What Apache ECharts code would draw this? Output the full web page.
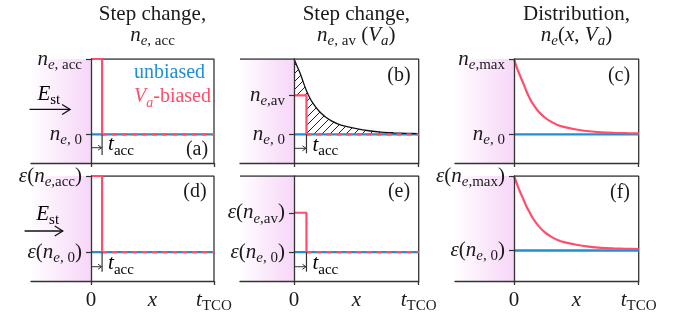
<!DOCTYPE html>
<html>
<head>
<meta charset="utf-8">
<script src="https://cdn.jsdelivr.net/npm/echarts@6/dist/echarts.min.js"></script>
<style>
  html, body { margin: 0; padding: 0; background: #fff; }
  #chart { width: 686px; height: 320px; }
</style>
</head>
<body>
<div id="chart"></div>
<script>
// ---------- values ----------
const T_TCO = 1;                         // right end of every x range
const xTickValues = [0, T_TCO];
const xLabelValues = [0, 0.5, T_TCO];
const xLabelTexts = ['{r|0}', '{n|x}', '{n|t}{sr|TCO}'];

const nE0 = 0.275;      // unbiased level n_e,0
const nE0f = 0.29;      // unbiased level drawn in panel (f)
const nAcc = 1.0;       // n_e,acc
const nAv = 0.65;       // n_e,av
const nMax = 1.0;       // n_e,max
const tAccStep = 0.09;  // t_acc in panels (a), (d)
const tAccAvg = 0.1;    // t_acc in panels (b), (e)

// sampled profiles n_e(x)
const profileX   = [0, 0.025, 0.05, 0.075, 0.1, 0.125, 0.15, 0.2, 0.25, 0.3, 0.35, 0.4, 0.5, 0.6, 0.7, 0.8, 0.9, 1.0];
const avgProfile = [1.0, 0.93, 0.86, 0.775, 0.695, 0.63, 0.578, 0.50, 0.445, 0.405, 0.377, 0.356, 0.33, 0.31, 0.297, 0.29, 0.285, 0.282];
const distProfileC = [1.0, 0.91, 0.835, 0.765, 0.69, 0.625, 0.57, 0.49, 0.435, 0.395, 0.365, 0.347, 0.322, 0.305, 0.295, 0.29, 0.287, 0.285];
const distProfileF = [1.0, 0.92, 0.845, 0.78, 0.71, 0.655, 0.60, 0.52, 0.46, 0.42, 0.39, 0.37, 0.345, 0.327, 0.315, 0.31, 0.307, 0.305];

// t_acc marker: [arrow level, bar bottom]
const tAccMarkA = [0.147, 0.077];
const tAccMarkB = [0.141, 0.093];
const tAccMarkD = [0.136, 0.089];
const tAccMarkE = [0.136, 0.089];

// E_st arrows: [x start, x end, level]
const fieldArrowTop = [-0.5, -0.17, 0.515];
const fieldArrowBottom = [-0.54, -0.23, 0.476];

// ---------- styles ----------
const BLUE = '#1f8fd6';
const RED = '#ff4d6b';
const INK = '#333';
const TXT = '#1a1a1a';
const SERIF = '"Liberation Serif", "DejaVu Serif", serif';

function richSet(color) {
  return {
    n:  { fontFamily: SERIF, fontStyle: 'italic', fontSize: 21, lineHeight: 27, verticalAlign: 'middle', color: color },
    r:  { fontFamily: SERIF, fontSize: 21, lineHeight: 27, verticalAlign: 'middle', color: color },
    si: { fontFamily: SERIF, fontStyle: 'italic', fontSize: 15, lineHeight: 15, verticalAlign: 'bottom', color: color },
    sr: { fontFamily: SERIF, fontSize: 15, lineHeight: 15, verticalAlign: 'bottom', color: color }
  };
}
const RICH = richSet(TXT);

const nSub = s => '{n|n}{si|e}{sr|' + s + '}';
const epsOf = s => '{n|ε}{r|(}' + nSub(s) + '{r|)}';

// ---------- panel layout ----------
const grids = [
  { left: 31,  top: 59,  width: 183,   height: 104 },
  { left: 240, top: 59,  width: 178.7, height: 104 },
  { left: 455, top: 59,  width: 183.7, height: 104 },
  { left: 31,  top: 176, width: 183,   height: 105 },
  { left: 240, top: 176, width: 178.7, height: 105 },
  { left: 455, top: 176, width: 183.7, height: 105 }
];
const xMins = [-0.488, -0.433, -0.473, -0.488, -0.433, -0.473];
// distance from a grid's left edge to x = 0, used to put the y axis on x = 0
const zeroShift = i => grids[i].width * (-xMins[i]) / (T_TCO - xMins[i]);

const yLabelSets = [
  [[nE0, nSub(', 0')], [nAcc, nSub(', acc')]],
  [[nE0, nSub(', 0')], [nAv, nSub(',av')]],
  [[nE0, nSub(', 0')], [nMax, nSub(',max')]],
  [[nE0, epsOf(', 0')], [nAcc, epsOf(',acc')]],
  [[nE0, epsOf(', 0')], [nAv, epsOf(',av')]],
  [[nE0f, epsOf(', 0')], [nMax, epsOf(',max')]]
];

// ---------- helpers ----------
function hatchTile() {
  const s = 8;
  const c = document.createElement('canvas');
  c.width = s; c.height = s;
  const g = c.getContext('2d');
  g.strokeStyle = '#222';
  g.lineWidth = 1;
  g.beginPath();
  g.moveTo(0, s); g.lineTo(s, 0);
  g.moveTo(-1, 1); g.lineTo(1, -1);
  g.moveTo(s - 1, s + 1); g.lineTo(s + 1, s - 1);
  g.stroke();
  return c;
}
const HATCH = { image: hatchTile(), repeat: 'repeat' };

const zip = (xs, ys) => xs.map((x, k) => [x, ys[k]]);

function lineSeries(i, name, data, color, width, extra) {
  return Object.assign({
    type: 'line', name: name, xAxisIndex: i, yAxisIndex: i,
    data: data, showSymbol: false, symbol: 'none', silent: true,
    lineStyle: { color: color, width: width }, itemStyle: { color: color },
    z: 3, animation: false
  }, extra || {});
}

function frameSeries(i, fullTop) {
  return lineSeries(i, 'frame', [[fullTop ? xMins[i] : 0, 1], [T_TCO, 1], [T_TCO, 0]], INK, 1.3, {
    z: 1,
    markArea: {
      silent: true,
      itemStyle: {
        color: new echarts.graphic.LinearGradient(0, 0, 1, 0, [
          { offset: 0, color: '#fffdff' },
          { offset: 1, color: '#f7d6f8' }
        ])
      },
      label: { show: false },
      data: [[{ xAxis: xMins[i], yAxis: 0 }, { xAxis: 0, yAxis: 1 }]]
    }
  });
}

function stepSeries(i, level, tAcc, base) {
  return [
    lineSeries(i, 'Va-biased', [[0, level], [tAcc, level], [tAcc, base]], RED, 2.2, { z: 4 }),
    lineSeries(i, 'Va-biased', [[tAcc, base], [T_TCO, base]], RED, 2.2, {
      z: 4, lineStyle: { color: RED, width: 2.2, type: [5, 5] }
    })
  ];
}

function tAccMarker(i, tAcc, base, mark) {
  return {
    type: 'custom', xAxisIndex: i, yAxisIndex: i, silent: true, z: 6,
    data: [[tAcc, mark[0], mark[1], base]],
    renderItem: (params, api) => {
      const a0 = api.coord([0, api.value(1)]);
      const a1 = api.coord([api.value(0), api.value(1)]);
      const b0 = api.coord([api.value(0), api.value(3)]);
      const b1 = api.coord([api.value(0), api.value(2)]);
      const ls = { stroke: INK, lineWidth: 1, fill: null };
      return {
        type: 'group',
        children: [
          { type: 'line', shape: { x1: a0[0], y1: a0[1], x2: a1[0] - 0.5, y2: a1[1] }, style: ls },
          { type: 'polyline', shape: { points: [[a1[0] - 4, a1[1] - 2.5], [a1[0] - 0.5, a1[1]], [a1[0] - 4, a1[1] + 2.5]] }, style: ls },
          { type: 'line', shape: { x1: b0[0], y1: b0[1], x2: b1[0], y2: b1[1] }, style: { stroke: INK, lineWidth: 1.2 } },
          { type: 'text', x: b0[0] + 6, y: a1[1] - 3,
            style: { text: '{n|t}{sr|acc}', rich: RICH, align: 'left', verticalAlign: 'middle' } }
        ]
      };
    }
  };
}

function fieldArrow(i, arrow, labelDx, labelDy) {
  return {
    type: 'custom', xAxisIndex: i, yAxisIndex: i, silent: true, z: 6, clip: false,
    data: [arrow],
    renderItem: (params, api) => {
      const p0 = api.coord([api.value(0), api.value(2)]);
      const p1 = api.coord([api.value(1), api.value(2)]);
      const ls = { stroke: '#111', lineWidth: 1.3, fill: null };
      return {
        type: 'group',
        children: [
          { type: 'line', shape: { x1: p0[0], y1: p0[1], x2: p1[0], y2: p1[1] }, style: ls },
          { type: 'polyline', shape: { points: [[p1[0] - 8, p1[1] - 5], [p1[0], p1[1]], [p1[0] - 8, p1[1] + 5]] }, style: ls },
          { type: 'text', x: (p0[0] + p1[0]) / 2 + labelDx, y: p0[1] + labelDy,
            style: { text: '{n|E}{sr|st}', rich: RICH, align: 'center', verticalAlign: 'middle' } }
        ]
      };
    }
  };
}

function hatchSeries(i) {
  return {
    type: 'custom', xAxisIndex: i, yAxisIndex: i, silent: true, z: 2,
    data: [[0, nAv]],
    renderItem: (params, api) => {
      const upper = zip(profileX, avgProfile).map(p => api.coord(p));
      const lower = [[T_TCO, nE0], [tAccAvg, nE0], [tAccAvg, nAv], [0, nAv]].map(p => api.coord(p));
      return { type: 'polygon', shape: { points: upper.concat(lower) }, style: { fill: HATCH, stroke: null } };
    }
  };
}

// ---------- axes ----------
const xAxes = grids.map((g, i) => ({
  gridIndex: i, type: 'value', min: xMins[i], max: T_TCO, z: 5,
  axisLine: { show: true, onZero: false, lineStyle: { color: INK, width: 1.3 } },
  axisTick: { show: true, customValues: xTickValues, length: 4, inside: false, lineStyle: { color: INK, width: 1.3 } },
  axisLabel: {
    show: i >= 3, customValues: xLabelValues, margin: 6, rich: RICH,
    formatter: v => xLabelTexts[xLabelValues.findIndex(t => Math.abs(t - v) < 1e-6)] || ''
  },
  splitLine: { show: false }
}));

const yAxes = grids.map((g, i) => ({
  gridIndex: i, type: 'value', min: 0, max: 1, z: 5,
  position: 'left', offset: -zeroShift(i),
  axisLine: { show: true, onZero: false, lineStyle: { color: INK, width: 1.3 } },
  axisTick: { show: true, customValues: yLabelSets[i].map(d => d[0]), length: 5, lineStyle: { color: INK, width: 1.2 } },
  axisLabel: {
    customValues: yLabelSets[i].map(d => d[0]), margin: 9, rich: RICH,
    formatter: v => { const d = yLabelSets[i].find(e => Math.abs(e[0] - v) < 1e-6); return d ? d[1] : ''; }
  },
  splitLine: { show: false }
}));

// ---------- series ----------
const series = [
  // (a)
  frameSeries(0, false),
  lineSeries(0, 'unbiased', [[0, nE0], [T_TCO, nE0]], BLUE, 2.4),
  ...stepSeries(0, nAcc, tAccStep, nE0),
  tAccMarker(0, tAccStep, nE0, tAccMarkA),
  fieldArrow(0, fieldArrowTop, -1, -15),
  // (b)
  frameSeries(1, true),
  hatchSeries(1),
  lineSeries(1, 'unbiased', [[0, nE0], [T_TCO, nE0]], BLUE, 2.4),
  lineSeries(1, 'profile', zip(profileX, avgProfile), '#111', 1.3, { smooth: 0.3, z: 3 }),
  ...stepSeries(1, nAv, tAccAvg, nE0),
  tAccMarker(1, tAccAvg, nE0, tAccMarkB),
  // (c)
  frameSeries(2, false),
  lineSeries(2, 'unbiased', [[0, nE0], [T_TCO, nE0]], BLUE, 2.4),
  lineSeries(2, 'Va-biased', zip(profileX, distProfileC), RED, 2.2, { smooth: 0.3, z: 4 }),
  // (d)
  frameSeries(3, false),
  lineSeries(3, 'unbiased', [[0, nE0], [T_TCO, nE0]], BLUE, 2.4),
  ...stepSeries(3, nAcc, tAccStep, nE0),
  tAccMarker(3, tAccStep, nE0, tAccMarkD),
  fieldArrow(3, fieldArrowBottom, 4, -17),
  // (e)
  frameSeries(4, true),
  lineSeries(4, 'unbiased', [[0, nE0], [T_TCO, nE0]], BLUE, 2.4),
  ...stepSeries(4, nAv, tAccAvg, nE0),
  tAccMarker(4, tAccAvg, nE0, tAccMarkE),
  // (f)
  frameSeries(5, false),
  lineSeries(5, 'unbiased', [[0, nE0f], [T_TCO, nE0f]], BLUE, 2.4),
  lineSeries(5, 'Va-biased', zip(profileX, distProfileF), RED, 2.2, { smooth: 0.3, z: 4 })
];

// ---------- titles ----------
const colCenters = [152.5, 356.3, 576.5];
const titleLine1 = ['Step change,', 'Step change,', 'Distribution,'];
const titleLine2 = [
  nSub(', acc'),
  nSub(', av') + '{r| (}{n|V}{si|a}{r|)}',
  '{n|n}{si|e}{r|(}{n|x}{r|, }{n|V}{si|a}{r|)}'
];
const titles = [];
colCenters.forEach((cx, k) => {
  titles.push({
    text: titleLine1[k], left: cx, top: 4, textAlign: 'center', padding: 0,
    textStyle: { fontFamily: SERIF, fontSize: 21, fontWeight: 'normal', color: TXT, lineHeight: 21 }
  });
  titles.push({
    text: titleLine2[k], left: cx, top: 22, textAlign: 'center', padding: 0,
    textStyle: { fontFamily: SERIF, fontSize: 21, fontWeight: 'normal', color: TXT, rich: RICH }
  });
});

// panel tags
const tags = [['(a)', 197, 149.5], ['(b)', 399, 75.5], ['(c)', 619, 76], ['(d)', 195, 192], ['(e)', 399, 192], ['(f)', 620, 193]];

const option = {
  animation: false,
  backgroundColor: '#fff',
  title: titles,
  grid: grids.map(g => Object.assign({ outerBoundsMode: 'none', containLabel: false }, g)),
  xAxis: xAxes,
  yAxis: yAxes,
  legend: {
    left: 128, top: 63, orient: 'vertical', padding: 0, itemGap: 4,
    itemWidth: 0, itemHeight: 0, selectedMode: false,
    data: ['unbiased', 'Va-biased'],
    formatter: name => name === 'unbiased' ? '{ub|unbiased}' : '{rv|V}{rs|a}{rb|-biased}',
    textStyle: {
      rich: {
        ub: { fontFamily: SERIF, fontSize: 20, lineHeight: 20, color: BLUE, verticalAlign: 'middle' },
        rv: { fontFamily: SERIF, fontStyle: 'italic', fontSize: 20, lineHeight: 26, color: RED, verticalAlign: 'middle' },
        rs: { fontFamily: SERIF, fontStyle: 'italic', fontSize: 14, lineHeight: 14, color: RED, verticalAlign: 'bottom' },
        rb: { fontFamily: SERIF, fontSize: 20, lineHeight: 26, color: RED, verticalAlign: 'middle' }
      }
    }
  },
  graphic: tags.map(t => ({
    type: 'text', x: t[1], y: t[2], silent: true,
    style: { text: t[0], font: '20px ' + SERIF, fill: TXT, align: 'center', verticalAlign: 'middle' }
  })),
  series: series
};

const chart = echarts.init(document.getElementById('chart'));
chart.setOption(option);
</script>
</body>
</html>
